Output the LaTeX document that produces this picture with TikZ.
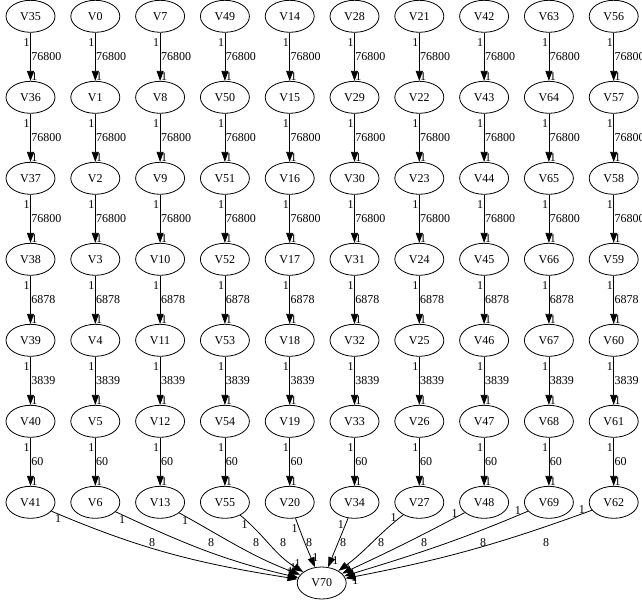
\documentclass[tikz,border=0pt]{standalone}
\usepackage{fontspec}
\setmainfont{Liberation Serif}
\usetikzlibrary{shapes.geometric,arrows.meta,calc}

\begin{document}
\begin{tikzpicture}[x=1pt, y=1pt, line width=0.8pt,
  every node/.style={font=\fontsize{12}{14}\selectfont},
  vert/.style={ellipse, draw, minimum width=49pt, minimum height=32pt, inner sep=0pt},
  lbl/.style={inner sep=0.5pt},
  arr/.style={-{Triangle[length=10pt,width=7pt]}}]
  \useasboundingbox (0,0) rectangle (642,-605);
  \foreach \s [count=\col from 0] in {35,0,7,49,14,28,21,42,63,56} {
    \foreach \row in {0,...,6} {
      \pgfmathtruncatemacro\vn{\s+\row}
      \node[vert] (V\vn) at (30.5+64.8*\col, -16.3-81*\row) {V\vn};
    }
  }
  \node[vert] (V70) at (321.7,-583) {V70};
  \foreach \s in {35,0,7,49,14,28,21,42,63,56} {
    \foreach \row/\w in {0/76800,1/76800,2/76800,3/6878,4/3839,5/60} {
      \pgfmathtruncatemacro\ta{\s+\row}
      \pgfmathtruncatemacro\hd{\s+\row+1}
      \draw[arr] (V\ta) -- node[lbl,pos=0.2,left]{1} node[lbl,pos=0.5,right]{\w} node[lbl,pos=0.9,right]{1} (V\hd);
    }
  }
  \foreach \tl/\ao/\ai/\lx in {41/-23/171/152, 6/-25/167/211, 13/-29/159/256, 55/-40/149/283,
      20/-70/113/309, 34/-112/68/343, 27/-142/36/381, 48/-152/25/424, 69/-157/17/483, 62/-160/11/546} {
    \draw[arr] (V\tl) to[out=\ao, in=\ai] (V70);
    \node[lbl] at ($(V\tl.\ao)+(\ao-25:10)$) {1};
    \node[lbl] at ($(V70.\ai)+(\ai-25:10)$) {1};
    \node[lbl] at (\lx,-543) {8};
  }
\end{tikzpicture}
\end{document}
